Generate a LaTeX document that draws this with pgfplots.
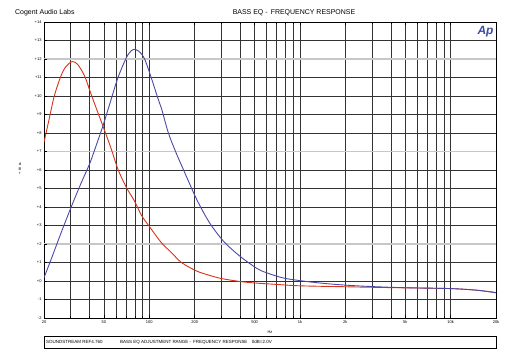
\documentclass[border=0pt]{standalone}
\usepackage{fontspec}
\setmainfont{Liberation Sans}
\usepackage{pgfplots}
\pgfplotsset{compat=1.18}
\definecolor{apred}{HTML}{D8321A}
\definecolor{apblue}{HTML}{4A48A8}
\definecolor{aplogo}{HTML}{3C4CA0}
\begin{document}
\begin{tikzpicture}[x=1bp,y=1bp]
\begin{axis}[
  at={(0,0)}, anchor=south west,
  scale only axis, width=452bp, height=296bp,
  xmode=log, xmin=20, xmax=20000, ymin=-2, ymax=14,
  axis line style={black, line width=0.6pt},
  xtick={20,50,100,200,500,1000,2000,5000,10000,20000},
  xticklabels={20,50,100,200,500,1k,2k,5k,10k,20k},
  minor xtick={30,40,60,70,80,90,300,400,600,700,800,900,3000,4000,6000,7000,8000,9000},
  ytick={-2,-1,0,1,3,4,5,6,8,9,10,11,13,14},
  yticklabels={-2,-1,+0,+1,+3,+4,+5,+6,+8,+9,+10,+11,+13,+14},
  extra y ticks={2,7,12},
  extra y tick labels={+2,+7,+12},
  extra y tick style={major grid style={black!22, line width=1.1pt}},
  minor y tick num=4,
  ytick pos=left,
  tick align=inside,
  major tick length=3bp, minor tick length=2bp,
  tick style={black, line width=0.4pt},
  xmajorgrids, xminorgrids, ymajorgrids,
  major grid style={black!80, line width=0.4pt},
  minor grid style={black!80, line width=0.4pt},
  xticklabel style={font=\fontsize{4}{5}\selectfont, yshift=1bp},
  yticklabel style={font=\fontsize{4}{5}\selectfont, xshift=1bp},
  clip=true,
]
\addplot[apred, line width=0.9pt, smooth, tension=0.5] coordinates {
(20,7.5) (21.5,8.65) (23.4,10.0) (25.9,11.08) (28,11.6) (30.8,11.86) (33.5,11.7)
(37.2,11.08) (41.1,10.09) (45,9.22) (49.2,8.38) (56,7.12) (61.9,6.04) (70.5,5.05)
(80,4.3) (88.7,3.55) (100,2.95) (120,2.08) (140,1.54) (164,0.99) (206,0.54)
(250,0.31) (303,0.13) (411,-0.04) (550,-0.13) (685,-0.18) (1000,-0.26)
(2000,-0.31) (3000,-0.34) (5000,-0.37) (10000,-0.41) (15000,-0.5) (20000,-0.63)
};
\addplot[apblue, line width=0.9pt, smooth, tension=0.5] coordinates {
(20,0.18) (22.3,1.17) (25.9,2.58) (30.3,4.0) (35.3,5.3) (40,6.3) (43.2,7.05)
(49.2,8.38) (55,9.65) (61.9,10.99) (70.5,12.08) (76,12.45) (80.9,12.52) (87,12.35)
(93.3,11.98) (103,10.99) (114.6,9.82) (120.5,9.32) (133.6,8.02) (150,6.96)
(168,6.04) (206,4.42) (250,3.17) (303,2.25) (350,1.74) (411,1.26) (480,0.86)
(559,0.54) (760,0.18) (1000,0.02) (1400,-0.12) (2060,-0.23) (3000,-0.3)
(4800,-0.36) (10000,-0.41) (15000,-0.5) (20000,-0.63)
};
\node[anchor=north east, inner sep=0pt, text=aplogo, font=\fontsize{12}{13}\selectfont\bfseries\itshape]
  at (rel axis cs:0.995,0.985) {Ap};
\end{axis}
\node[anchor=west, inner sep=0pt, font=\fontsize{7}{8}\selectfont] at (-29,305.5) {Cogent Audio Labs};
\node[inner sep=0pt, font=\fontsize{7}{8}\selectfont] at (250,305.5) {BASS EQ -\, FREQUENCY RESPONSE};
\node[inner sep=0pt, font=\fontsize{4}{5}\selectfont] at (226,-14) {Hz};
\node[inner sep=0pt, align=center, font=\fontsize{4}{4.5}\selectfont] at (-24,149) {d\\B\\r};
\draw[black, line width=0.5pt] (0,-18) rectangle (452,-30);
\node[anchor=west, inner sep=0pt, font=\fontsize{4.5}{5}\selectfont] at (2,-24) {SOUNDSTREAM REF4.760};
\node[anchor=west, inner sep=0pt, font=\fontsize{4.5}{5}\selectfont] at (76,-24) {BASS EQ ADJUSTMENT RANGE -\, FREQUENCY RESPONSE\quad 0dB=2.0V};
\pgfresetboundingbox
\path (-44,-42) rectangle (471,318);
\end{tikzpicture}
\end{document}
